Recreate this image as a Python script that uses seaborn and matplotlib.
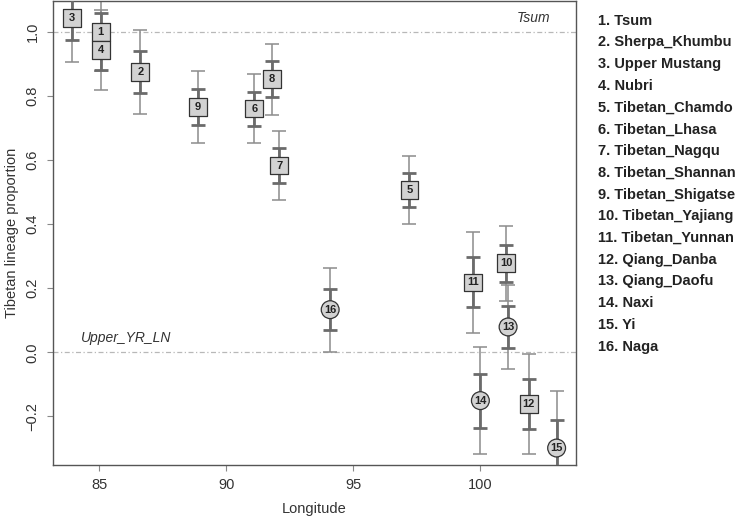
import matplotlib
matplotlib.use("Agg")
import matplotlib.pyplot as plt
import seaborn as sns
import pandas as pd

ids = list(range(1, 17))
names = ["Tsum", "Sherpa_Khumbu", "Upper Mustang", "Nubri", "Tibetan_Chamdo",
         "Tibetan_Lhasa", "Tibetan_Nagqu", "Tibetan_Shannan", "Tibetan_Shigatse",
         "Tibetan_Yajiang", "Tibetan_Yunnan", "Qiang_Danba", "Qiang_Daofu",
         "Naxi", "Yi", "Naga"]
longitude = [85.06, 86.62, 83.92, 85.06, 97.21, 91.10, 92.09, 91.80, 88.89,
             101.02, 99.72, 101.91, 101.09, 100.00, 103.00, 94.09]
proportion = [0.999, 0.875, 1.043, 0.944, 0.507, 0.761, 0.583, 0.853, 0.766,
              0.278, 0.218, -0.162, 0.079, -0.151, -0.299, 0.133]
err_inner = [0.060, 0.066, 0.069, 0.062, 0.053, 0.053, 0.054, 0.055, 0.056,
             0.058, 0.078, 0.078, 0.065, 0.084, 0.089, 0.065]
err_outer = [0.120, 0.131, 0.136, 0.124, 0.107, 0.107, 0.109, 0.111, 0.112,
             0.117, 0.157, 0.156, 0.131, 0.167, 0.178, 0.131]
shape = ["square"] * 12 + ["circle"] * 4
ref_lines = [1.0, 0.0]
ref_labels = ["Tsum", "Upper_YR_LN"]
x_ticks = [85, 90, 95, 100]
y_ticks = [-0.2, 0.0, 0.2, 0.4, 0.6, 0.8, 1.0]

df = pd.DataFrame({"id": ids, "name": names, "lon": longitude, "prop": proportion,
                   "ei": err_inner, "eo": err_outer, "shape": shape})

sns.set_theme(style="white")
plt.rcParams["font.family"] = ["Liberation Sans", "DejaVu Sans"]
plt.rcParams["axes.unicode_minus"] = True

fig = plt.figure(figsize=(7.47, 5.18), dpi=100)
ax = fig.add_axes([0.0705, 0.1023, 0.7005, 0.8957])

# reference lines
for yv in ref_lines:
    ax.axhline(yv, color="#b8b8b8", lw=0.9, ls=(0, (4, 2, 1, 2)), zorder=1)
ax.text(102.75, 1.022, ref_labels[0], style="italic", fontsize=10,
        color="#333333", ha="right", va="bottom")
ax.text(84.28, 0.022, ref_labels[1], style="italic", fontsize=10,
        color="#333333", ha="left", va="bottom")

# error bars
ax.errorbar(df["lon"], df["prop"], yerr=df["eo"], fmt="none", ecolor="#8c8c8c",
            elinewidth=1.1, capsize=4.8, capthick=1.1, zorder=2)
ax.errorbar(df["lon"], df["prop"], yerr=df["ei"], fmt="none", ecolor="#6b6b6b",
            elinewidth=2.0, capsize=4.8, capthick=2.0, zorder=3)

# markers
sns.scatterplot(data=df, x="lon", y="prop", style="shape",
                markers={"square": "s", "circle": "o"}, s=165,
                color="#d2d2d2", edgecolor="#333333", linewidth=0.9,
                legend=False, ax=ax, zorder=4)
for _, r in df.iterrows():
    ax.text(r["lon"], r["prop"], str(r["id"]), ha="center", va="center",
            fontsize=8, fontweight="bold", color="#222222", zorder=5)

ax.set_xlim(83.17, 103.76)
ax.set_ylim(-0.352, 1.0966)
ax.set_xticks(x_ticks)
ax.set_yticks(y_ticks)
ax.set_xticklabels([str(t) for t in x_ticks], fontsize=10.5)
ax.set_yticklabels([f"{t:.1f}".replace("-", "\u2212") for t in y_ticks],
                   fontsize=10.5, rotation=90, va="center")
ax.tick_params(axis="both", length=4.5, width=0.8, color="#888888",
               labelcolor="#333333", bottom=True, left=True, pad=5)
ax.set_xlabel("Longitude", fontsize=10.5, color="#333333", labelpad=7)
ax.set_ylabel("Tibetan lineage proportion", fontsize=10.5, color="#333333", labelpad=5)
for sp in ax.spines.values():
    sp.set_color("#555555")
    sp.set_linewidth(1.0)
    sp.set_visible(True)

# right-side key
for i, (k, nm) in enumerate(zip(ids, names)):
    fig.text(598 / 747, 1 - (20.7 + i * 21.73) / 518, f"{k}. {nm}",
             fontsize=10.5, fontweight="bold", color="#222222", ha="left", va="center")

fig.savefig("out.png", dpi=100)
